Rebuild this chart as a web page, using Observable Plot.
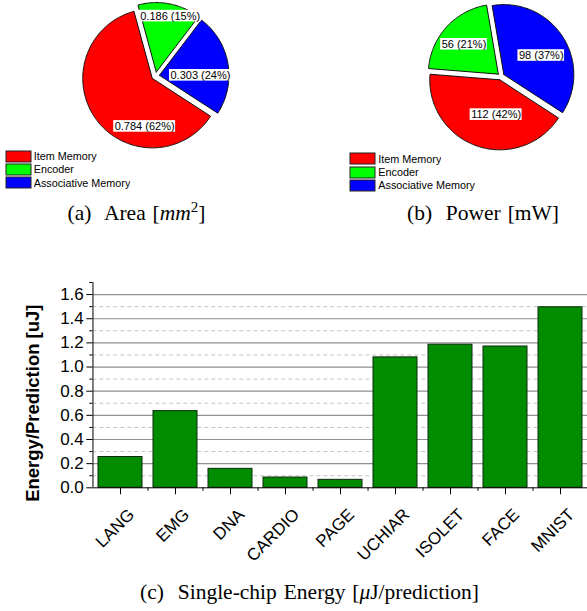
<!DOCTYPE html>
<html><head><meta charset="utf-8">
<script src="https://cdn.jsdelivr.net/npm/d3@7"></script>
<script src="https://cdn.jsdelivr.net/npm/@observablehq/plot@0.6"></script>
<style>
html,body{margin:0;padding:0;background:#fff;}
#page{position:relative;width:587px;height:611px;overflow:hidden;background:#fff;}
.abs{position:absolute;}
.cap{position:absolute;font-family:"Liberation Serif","Times New Roman",serif;font-size:21.5px;line-height:21.5px;white-space:nowrap;color:#000;transform:translateX(-50%);word-spacing:1.5px;}
.cap i{font-style:italic;}
.cap .sup{font-size:0.7em;position:relative;top:-0.55em;}
.pieleg-swatches{margin:0 !important;}
.pieleg-swatch{height:13.3px;padding-bottom:0 !important;}
.pieleg-swatch > svg{margin-right:3px !important;}
.pieleg-swatch rect{stroke:#222;stroke-width:1;}
.pieleg-swatch-label{color:#000;}
</style></head><body><div id="page"></div>
<script>
// ---------- data ----------
const pieCategories = ["Item Memory", "Encoder", "Associative Memory"];
const pieColors = ["#FF0000", "#00FF00", "#0000FF"];
const areaValues = [0.784, 0.186, 0.303];
const powerValues = [112, 56, 98];

const benchmarks = ["LANG", "EMG", "DNA", "CARDIO", "PAGE", "UCHIAR", "ISOLET", "FACE", "MNIST"];
const energyValues = [0.255, 0.635, 0.157, 0.085, 0.066, 1.08, 1.185, 1.17, 1.495];

const yMajorTicks = [0, 0.2, 0.4, 0.6, 0.8, 1.0, 1.2, 1.4, 1.6];
const yMinorTicks = [0.1, 0.3, 0.5, 0.7, 0.9, 1.1, 1.3, 1.5];
const yMinorAxisTicks = [0.1, 0.3, 0.5, 0.7, 0.9, 1.1, 1.3, 1.5, 1.7];

// ---------- layout ----------
const FONT = "'Liberation Sans', Arial, sans-serif";
const START = 123 * Math.PI / 180;
const areaLayout = {left: 0, width: 293, cx: 155, cy: 75.5, r: 69.5, explode: 4,
  labelPlace: [{bearing: 189, rf: 0.70}, {bearing: 14, rf: 0.83}, {bearing: 90, rf: 0.59}],
  fmt: d3.format(".3f"), legendLeft: 5.7, legendTop: 149.5};
const powerLayout = {left: 293, width: 294, cx: 207.4, cy: 76, r: 70, explode: 3.5,
  labelPlace: [{bearing: 186, rf: 0.5}, {bearing: 311, rf: 0.65}, {bearing: 63, rf: 0.6}],
  fmt: d => String(d), legendLeft: 350.3, legendTop: 152.2};

const page = document.getElementById("page");
const ctx = document.createElement("canvas").getContext("2d");
ctx.font = "11px 'Liberation Sans'";

function place(el, left, top) {
  const d = document.createElement("div");
  d.className = "abs";
  d.style.left = left + "px";
  d.style.top = top + "px";
  d.appendChild(el);
  page.appendChild(d);
  return d;
}

function pieChart(values, L) {
  const total = d3.sum(values);
  const arcs = d3.pie().sort(null).startAngle(START).endAngle(START + 2 * Math.PI)(values);
  const pts = [], labels = [];
  arcs.forEach((a, i) => {
    const slice = pieCategories[i], color = pieColors[i];
    const mid = (a.startAngle + a.endAngle) / 2;
    const e = L.explode / L.r;
    const ox = e * Math.sin(mid), oy = e * Math.cos(mid);
    pts.push({slice, color, x: ox, y: oy});
    const n = Math.max(2, Math.ceil((a.endAngle - a.startAngle) / (Math.PI / 180)));
    for (let k = 0; k <= n; k++) {
      const t = a.startAngle + (a.endAngle - a.startAngle) * k / n;
      pts.push({slice, color, x: ox + Math.sin(t), y: oy + Math.cos(t)});
    }
    pts.push({slice, color, x: ox, y: oy});
    const lp = L.labelPlace[i];
    const lb = lp.bearing * Math.PI / 180;
    const text = `${L.fmt(values[i])} (${Math.round(values[i] / total * 100)}%)`;
    const w = ctx.measureText(text).width;
    labels.push({text, x: ox + lp.rf * Math.sin(lb), y: oy + lp.rf * Math.cos(lb),
      hw: (w / 2 + 1) / L.r, hh: 5.8 / L.r});
  });
  const svg = Plot.plot({
    width: L.width, height: 150, margin: 0,
    style: {fontFamily: FONT, background: "transparent", overflow: "visible", color: "black"},
    x: {domain: [-1, 1], range: [L.cx - L.r, L.cx + L.r], axis: null},
    y: {domain: [-1, 1], range: [L.cy + L.r, L.cy - L.r], axis: null},
    color: {type: "identity"},
    marks: [
      Plot.line(pts, {x: "x", y: "y", z: "slice", fill: d => d.color, stroke: "#111", strokeWidth: 1, strokeLinejoin: "miter"}),
      Plot.rect(labels, {x1: d => d.x - d.hw, x2: d => d.x + d.hw, y1: d => d.y - d.hh, y2: d => d.y + d.hh, fill: "white"}),
      Plot.text(labels, {x: "x", y: "y", text: "text", fontSize: 11, fill: "black"})
    ]
  });
  place(svg, L.left, 0);
  const leg = Plot.legend({
    color: {domain: pieCategories, range: pieColors},
    legend: "swatches", columns: 1, swatchWidth: 25, swatchHeight: 11, className: "pieleg",
    style: {fontFamily: FONT, fontSize: "10.8px", color: "black"}
  });
  place(leg, L.legendLeft, L.legendTop);
}

pieChart(areaValues, areaLayout);
pieChart(powerValues, powerLayout);

// ---------- bar chart ----------
const barData = benchmarks.map((name, i) => ({name, value: energyValues[i]}));
const X0 = 92.3, X1 = 588;
const step = (X1 - X0) / benchmarks.length;
const bar = Plot.plot({
  width: 587, height: 310, marginTop: 22, marginBottom: 82.7, marginLeft: 92.3, marginRight: 0,
  style: {fontFamily: FONT, color: "black", overflow: "visible", background: "transparent"},
  x: {domain: benchmarks, range: [X0, X1], paddingInner: 0.2, paddingOuter: 0.1},
  y: {domain: [0, 1.7]},
  marks: [
    Plot.ruleY(yMinorTicks, {stroke: "#c4c4c4", strokeDasharray: "4,3"}),
    Plot.ruleY(yMajorTicks.filter(v => v > 0), {stroke: "#8f8f8f", strokeWidth: 1.2}),
    Plot.barY(barData, {x: "name", y: "value", fill: "#008C00", stroke: "#0d2a0d", strokeWidth: 1}),
    Plot.ruleY([0], {stroke: "#000"}),
    Plot.tickX([benchmarks[0]], {x: d => d, dx: -step / 2, stroke: "#000"}),
    Plot.axisY({ticks: yMajorTicks, tickSize: 6, tickPadding: 3, tickFormat: d3.format(".1f"), fontSize: 17, label: null}),
    Plot.axisY({ticks: yMinorAxisTicks, tickSize: 3, tickFormat: () => "", label: null}),
    Plot.axisX({tickSize: 7, tickFormat: () => "", label: null}),
    Plot.axisX({tickSize: 3.5, dx: step / 2, tickFormat: () => "", label: null}),
    Plot.text(benchmarks, {x: d => d, frameAnchor: "bottom", rotate: -45, textAnchor: "end", lineAnchor: "middle", dx: 11, dy: 24, fontSize: 17}),
    Plot.text(["Energy/Prediction [uJ]"], {frameAnchor: "left", rotate: -90, lineAnchor: "bottom", textAnchor: "middle", dx: -53.8, dy: 18, fontSize: 18.5, fontWeight: "bold"})
  ]
});
place(bar, 0, 260);

// ---------- captions ----------
function caption(html, cx, baseline) {
  const d = document.createElement("div");
  d.className = "cap";
  d.innerHTML = html;
  d.style.left = cx + "px";
  d.style.top = (baseline - 18) + "px";
  page.appendChild(d);
}
caption("(a)&nbsp; Area [<i>mm</i><span class='sup'>2</span>]", 136.5, 221);
caption("(b)&nbsp; Power [mW]", 483, 221);
caption("(c)&nbsp; Single-chip Energy [<i>μ</i>J/prediction]", 309.5, 600);
</script>
</body></html>
